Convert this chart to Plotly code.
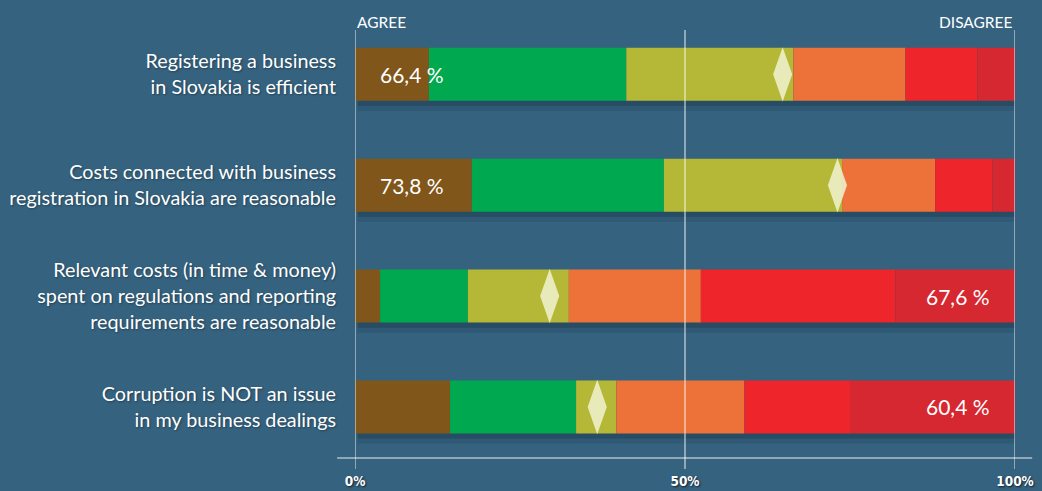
import numpy as np
import plotly.graph_objects as go

# ---------------- data ----------------
categories = [
    "Registering a business<br>in Slovakia is efficient",
    "Costs connected with business<br>registration in Slovakia are reasonable",
    "Relevant costs (in time & money)<br>spent on regulations and reporting<br>requirements are reasonable",
    "Corruption is NOT an issue<br>in my business dealings",
]
strongly_agree = [11.2, 17.7, 3.8, 14.4]
agree = [29.9, 29.1, 13.3, 19.1]
somewhat_agree = [25.3, 27.0, 15.3, 6.1]
somewhat_disagree = [17.0, 14.1, 20.0, 19.4]
disagree = [10.9, 8.7, 29.5, 16.0]
strongly_disagree = [5.7, 3.4, 18.1, 25.0]
mean_position = [64.8, 73.1, 29.5, 36.7]
highlight_labels = ["66,4 %", "73,8 %", "67,6 %", "60,4 %"]
highlight_side = ["agree", "agree", "disagree", "disagree"]
tick_vals = [0, 50, 100]
tick_text = ["0%", "50%", "100%"]

series = [
    ("Strongly agree", strongly_agree, "#80561B"),
    ("Agree", agree, "#00A84F"),
    ("Somewhat agree", somewhat_agree, "#B5B836"),
    ("Somewhat disagree", somewhat_disagree, "#EC7239"),
    ("Disagree", disagree, "#EE252B"),
    ("Strongly disagree", strongly_disagree, "#D62831"),
]

# ---------------- figure ----------------
ypos = np.arange(len(categories), dtype=float)
BAR_W = 0.478
BG = "#35627f"
FONT = "Lato, 'Open Sans', sans-serif"

fig = go.Figure()

# soft shadow under bars
totals = np.sum([s[1] for s in series], axis=0)
for off, w, a in [(0.05, 0.56, 0.12), (0.03, 0.51, 0.2)]:
    fig.add_trace(go.Bar(
        y=ypos + off, x=totals + 0.6, base=0.4, orientation="h", width=w,
        marker=dict(color=f"rgba(10,25,40,{a})", line_width=0),
        hoverinfo="skip", showlegend=False,
    ))

base = np.zeros(len(categories))
for name, vals, color in series:
    vals = np.array(vals)
    fig.add_trace(go.Bar(
        y=ypos, x=vals, base=base, orientation="h", width=BAR_W, name=name,
        marker=dict(color=color, line_width=0), showlegend=False,
    ))
    base = base + vals

# diamonds (mean position)
dx, dy = 1.45, 0.245
dxs, dys = [], []
for i, m in enumerate(mean_position):
    dxs += [m, m + dx, m, m - dx, m, None]
    dys += [i - dy, i, i + dy, i, i - dy, None]
fig.add_trace(go.Scatter(
    x=dxs, y=dys, mode="lines", fill="toself",
    fillcolor="rgba(240,240,205,0.88)", line=dict(width=0, color="rgba(0,0,0,0)"),
    hoverinfo="skip", showlegend=False,
))

# value labels
for i, (lab, side) in enumerate(zip(highlight_labels, highlight_side)):
    fig.add_annotation(
        x=8.6 if side == "agree" else 91.4, y=i, text=lab, showarrow=False,
        xanchor="center", yanchor="middle",
        font=dict(family=FONT, size=21, color="white"),
    )

# grid lines above bars
for v in tick_vals:
    fig.add_shape(type="line", xref="x", yref="paper", x0=v, x1=v,
                  y0=-11 / 428, y1=1.0, layer="above",
                  line=dict(color="rgba(255,255,255,0.9)", width=1))
# axis baseline
fig.add_shape(type="line", xref="paper", yref="paper", x0=-0.027, x1=1.026,
              y0=0, y1=0, layer="above",
              line=dict(color="rgba(255,255,255,0.9)", width=1.2))

fig.add_annotation(x=0, xref="x", y=1.019, yref="paper", text="AGREE",
                   showarrow=False, xanchor="left", yanchor="middle",
                   font=dict(family=FONT, size=15.5, color="white"))
fig.add_annotation(x=100, xref="x", y=1.019, yref="paper", text="DISAGREE",
                   showarrow=False, xanchor="right", yanchor="middle",
                   font=dict(family=FONT, size=15.5, color="white"))

fig.update_layout(
    width=1042, height=491,
    margin=dict(l=355, r=26.5, t=30, b=33, autoexpand=False),
    paper_bgcolor=BG, plot_bgcolor=BG,
    barmode="overlay",
    showlegend=False,
    xaxis=dict(
        range=[0, 100], showgrid=False, zeroline=False, showline=False,
        automargin=False,
        tickvals=tick_vals, ticktext=tick_text,
        ticks="", ticklabelstandoff=13,
        tickfont=dict(family="'DejaVu Sans Condensed', 'DejaVu Sans', sans-serif",
                      size=13.5, color="white", weight="bold",
                      shadow="1px 1px 2px rgba(0,0,0,0.7)"),
    ),
    yaxis=dict(
        range=[3.46, -0.40], showgrid=False, zeroline=False, showline=False,
        automargin=False,
        tickvals=list(ypos), ticktext=categories, ticks="",
        ticklabelstandoff=18,
        tickfont=dict(family=FONT, size=19.8, color="white",
                      shadow="1px 1px 2px rgba(0,0,0,0.35)"),
    ),
)

fig.write_html(
    "out.html",
    config={"displayModeBar": False},
    post_script="document.body.style.margin='0';document.body.style.background='"
    + BG + "';document.body.style.overflow='hidden';",
)
